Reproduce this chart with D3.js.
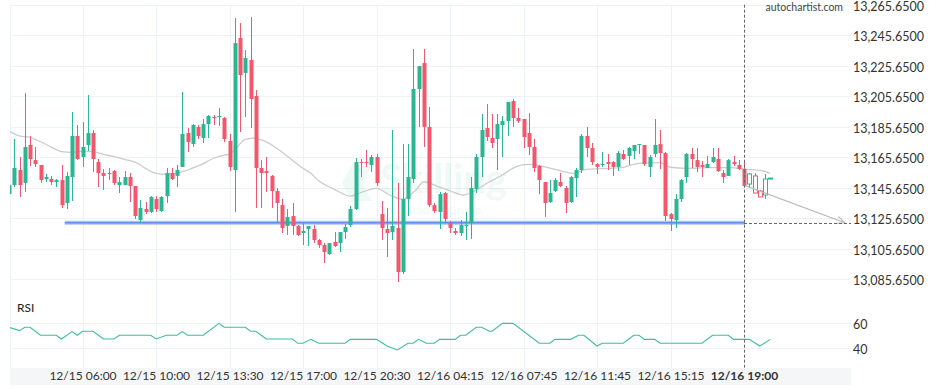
<!DOCTYPE html>
<html>
<head>
<meta charset="utf-8">
<script src="https://cdn.jsdelivr.net/npm/d3@7"></script>
<style>
  body { margin: 0; background: #fff; }
  text { font-family: Lato, "Open Sans", sans-serif; }
</style>
</head>
<body>
<div id="chart"></div>
<script>
// candle series (15 min bars), one entry per bar index
const opens = [13141.5,13147.4,13157.3,13148.8,13173.7,13163.8,13160.6,13151.4,13151.4,13149.4,
  13150.7,13135.7,13152.7,13179.6,13165.8,13173.7,13181.5,13162.5,13155.3,13154.7,
  13156.6,13147.4,13147.4,13152.7,13146.8,13124.5,13131.7,13129.8,13138.3,13130.4,
  13140.2,13155.3,13153.4,13159.3,13181.5,13174.3,13185.5,13178.3,13187.4,13192.0,
  13192.0,13191.4,13176.3,13157.3,13243.8,13220.9,13229.4,13205.8,13158.6,13156.6,
  13153.4,13143.5,13134.3,13120.6,13127.1,13120.6,13116.0,13118.6,13118.6,13111.4,
  13108.1,13102.2,13110.1,13109.4,13116.6,13121.2,13131.7,13162.5,13162.5,13160.6,
  13165.8,13128.4,13118.6,13116.6,13119.3,13090.4,13138.3,13151.4,13210.4,13227.4,
  13185.5,13134.3,13129.8,13142.2,13122.5,13117.3,13116.0,13120.6,13122.5,13144.8,
  13165.8,13184.8,13178.3,13177.6,13186.8,13189.4,13202.5,13191.4,13190.7,13181.5,
  13172.4,13159.9,13149.4,13136.3,13143.5,13149.4,13145.5,13136.3,13152.0,13157.3,
  13179.6,13171.7,13161.2,13160.6,13162.5,13162.5,13159.3,13167.8,13166.5,13169.7,
  13173.7,13173.7,13159.3,13167.8,13174.3,13168.4,13128.4,13124.5,13138.3,13152.7,
  13167.8,13163.8,13160.6,13158.6,13162.5,13164.5,13155.3,13153.4,13162.5,13160.6,
  13157.9,13148.1,13153.4,13143.5,13140.9,13152.0];
const highs = [13148.1,13177.6,13165.8,13207.7,13179.6,13172.4,13160.6,13154.7,13153.4,13151.4,
  13160.6,13156.0,13195.3,13186.8,13188.7,13206.4,13183.5,13164.5,13157.9,13158.6,
  13157.3,13152.7,13156.6,13155.3,13146.8,13137.6,13136.3,13140.2,13140.2,13140.2,
  13158.6,13158.6,13160.6,13208.4,13184.8,13187.4,13186.8,13190.7,13193.3,13193.3,
  13197.9,13192.0,13180.9,13256.9,13253.6,13235.9,13257.6,13209.7,13163.8,13165.8,
  13154.0,13145.5,13138.3,13131.7,13135.7,13121.2,13122.5,13120.6,13121.2,13112.1,
  13109.4,13109.4,13116.6,13116.6,13121.9,13133.7,13165.1,13164.5,13170.4,13167.1,
  13167.8,13137.0,13132.4,13183.5,13148.8,13174.3,13174.3,13236.6,13225.4,13236.6,
  13198.6,13135.7,13142.9,13142.9,13123.9,13119.3,13124.5,13129.8,13152.7,13167.8,
  13194.0,13200.5,13194.0,13194.0,13192.7,13201.9,13203.8,13197.9,13190.7,13194.6,
  13177.6,13160.6,13149.4,13150.7,13152.0,13155.3,13146.8,13153.4,13158.6,13180.9,
  13185.5,13175.0,13161.9,13169.1,13167.8,13163.2,13169.7,13170.4,13172.4,13173.7,
  13174.3,13173.7,13167.1,13190.7,13183.5,13169.1,13129.1,13141.5,13151.4,13168.4,
  13171.7,13171.7,13163.2,13166.5,13171.7,13171.7,13157.3,13164.5,13166.5,13163.8,
  13163.8,13155.3,13155.3,13144.2,13154.7,13152.0];
const lows = [13140.9,13146.1,13139.6,13142.9,13159.9,13159.3,13148.8,13149.4,13147.4,13146.1,
  13132.4,13131.7,13137.0,13163.8,13159.3,13169.7,13156.0,13146.1,13144.2,13150.7,
  13147.4,13142.2,13147.4,13136.3,13125.2,13122.5,13128.4,13129.1,13129.8,13129.8,
  13135.7,13150.7,13146.1,13159.3,13169.1,13172.4,13177.6,13175.0,13178.3,13186.8,
  13186.1,13175.6,13156.6,13129.8,13182.2,13192.0,13184.8,13132.4,13132.4,13142.9,
  13132.4,13122.5,13116.0,13114.7,13114.7,13114.0,13108.1,13107.5,13109.4,13106.2,
  13096.3,13101.6,13106.8,13103.5,13112.1,13119.9,13131.1,13152.7,13159.3,13156.0,
  13146.8,13111.4,13100.3,13111.4,13083.9,13089.1,13127.1,13148.8,13185.5,13172.4,
  13133.0,13129.1,13118.6,13122.5,13116.0,13114.7,13114.0,13111.4,13112.1,13142.2,
  13152.7,13176.3,13171.7,13157.3,13165.8,13179.6,13185.5,13188.1,13171.7,13167.1,
  13156.0,13141.5,13126.5,13135.7,13142.9,13146.1,13129.1,13135.7,13139.6,13155.3,
  13165.8,13160.6,13154.7,13159.3,13157.3,13153.4,13156.6,13163.8,13160.6,13164.5,
  13167.8,13159.9,13152.7,13165.8,13157.9,13123.9,13117.3,13119.3,13136.3,13148.8,
  13158.6,13156.0,13152.7,13158.6,13161.9,13156.0,13148.8,13153.4,13159.9,13157.3,
  13146.1,13145.5,13142.2,13139.6,13138.3,13152.0];
const closes = [13147.4,13158.6,13147.4,13172.4,13164.5,13161.2,13150.7,13152.7,13149.4,13150.7,
  13134.3,13153.4,13179.6,13164.5,13172.4,13181.5,13164.5,13155.3,13153.4,13155.3,
  13148.8,13149.4,13152.7,13146.8,13127.1,13132.4,13129.8,13139.6,13131.7,13139.6,
  13155.3,13151.4,13157.3,13180.9,13175.6,13186.8,13179.6,13187.4,13192.7,13191.4,
  13192.7,13177.6,13159.3,13240.5,13219.5,13230.7,13203.8,13158.6,13155.3,13155.3,
  13143.5,13135.7,13119.3,13126.5,13120.6,13114.7,13117.3,13120.6,13111.4,13108.1,
  13103.5,13109.4,13107.5,13116.6,13119.9,13131.7,13162.5,13161.9,13161.9,13165.8,
  13148.8,13119.3,13116.0,13120.6,13090.4,13138.3,13152.7,13210.4,13225.4,13185.5,
  13134.3,13130.4,13141.5,13125.2,13119.3,13116.0,13121.2,13121.2,13145.5,13165.8,
  13183.5,13178.9,13175.0,13187.4,13189.4,13201.9,13191.4,13189.4,13178.9,13172.4,
  13158.6,13150.7,13135.7,13142.2,13150.7,13146.8,13135.7,13152.7,13157.3,13179.6,
  13171.7,13162.5,13159.3,13161.2,13161.2,13159.3,13168.4,13164.5,13171.7,13173.7,
  13174.3,13161.2,13165.8,13173.7,13168.4,13127.1,13125.2,13138.3,13150.7,13167.8,
  13164.5,13159.3,13159.3,13161.2,13165.8,13156.6,13152.7,13163.8,13161.2,13157.9,
  13146.8,13154.7,13142.2,13139.6,13151.4,13152.0];

// bars after the pattern end are drawn hollow
const hollowFrom = 141;

// time labels on the x axis and the bar index they sit on
const timeLabels = ['12/15 06:00','12/15 10:00','12/15 13:30','12/15 17:00','12/15 20:30',
  '12/16 04:15','12/16 07:45','12/16 11:45','12/16 15:15','12/16 19:00'];
const labelIdx = [14, 28, 42, 56, 70, 84, 98, 112, 126, 140];

// moving average : bar index / price
const maIdx = [0,2,4,6,8,10,12,14,16,18,20,22,24.5,26,28,30,32,34,36.5,39,41,42,43.5,45,46.5,48.5,
  51,53.5,56,57.5,59,62,65,67.5,70,72.5,75,77.5,79,81.5,84,86.5,88.5,91,94,96.5,99,102,105,
  107.5,110,114.5,116.5,120,124,126,129,133.5,137.5,140,143.5,145];
const maVals = [13183.0,13179.6,13178.7,13175.8,13172.5,13169.3,13168.9,13169.7,13169.3,13167.6,
  13166.0,13164.3,13161.7,13158.4,13155.1,13154.5,13155.1,13157.3,13160.6,13165.0,13167.1,13167.6,
  13172.5,13177.4,13178.1,13176.5,13171.5,13165.0,13158.4,13155.1,13150.3,13144.6,13140.2,13143.1,
  13145.3,13140.9,13138.1,13144.2,13149.6,13146.8,13143.7,13140.9,13143.1,13148.6,13154.0,13159.4,
  13161.0,13159.4,13156.8,13155.1,13157.7,13158.4,13158.8,13161.7,13162.1,13159.1,13158.4,13158.8,
  13158.8,13157.9,13156.8,13155.1];

// RSI vertices : bar index / value
const rsiIdx = [0,2,3,4,6,9,10,12,13,14,16,18,20,21,27,28,30,32,33,34,37,40,41,45,46,47,49,54,55,56,
  57.5,59,64,65,70,72,74,76,77,78,79.5,81,82,85,86,87,89,90,91.5,92,94,96,101,103,104,107,108.5,
  109.5,112,113,117,119,120,121,123,124,132,134,137,138,141,143,145];
const rsiVals = [56.4,53.8,56.4,56.4,50.2,50.2,47.3,53.0,50.2,53.3,53.3,47.3,47.3,50.2,50.2,47.3,50.2,
  50.2,53.0,50.2,50.2,59.5,56.4,56.4,53.3,53.3,47.3,47.3,43.9,43.9,47.0,43.9,43.9,47.0,47.0,41.8,
  38.7,43.9,43.9,47.0,43.9,43.9,47.0,47.0,50.2,50.2,56.4,56.4,53.3,53.3,59.5,59.5,43.9,43.9,47.0,
  47.0,50.2,50.2,41.8,43.9,43.9,50.2,50.2,47.0,47.0,43.9,43.9,50.2,50.2,47.0,47.0,41.8,47.0];

const priceTicks = [13085.65,13105.65,13125.65,13145.65,13165.65,13185.65,13205.65,13225.65,13245.65,13265.65];
const rsiTicks = [40, 60];

// support level and forecast
const supportLevel = 13122.75;
const supportStart = 11;
const patternEnd = 140;
const forecastStart = [140, 13147.4];
const forecastEnd = [159.2, 13122.75];

const width = 936;
const height = 390;
const plotLeft = 10;
const plotRight = 851;
const green = '#2bb692';
const red = '#f4566b';

const svg = d3.select('#chart')
  .append('svg')
  .attr('width', width)
  .attr('height', height);

const x = d3.scaleLinear().domain([0, 140]).range([9, 744]);
const y = d3.scaleLinear().domain([13085.65, 13265.65]).range([279.3, 4.7]);
const yRsi = d3.scaleLinear().domain([40, 60]).range([348.3, 322.7]);

svg.append('defs').append('clipPath')
    .attr('id', 'plot-clip')
  .append('rect')
    .attr('x', plotLeft)
    .attr('y', 0)
    .attr('width', plotRight - plotLeft)
    .attr('height', 368);

svg.select('defs').append('marker')
    .attr('id', 'arrow')
    .attr('viewBox', '0 -5 10 10')
    .attr('refX', 9)
    .attr('markerWidth', 9)
    .attr('markerHeight', 9)
    .attr('markerUnits', 'userSpaceOnUse')
    .attr('orient', 'auto')
  .append('path')
    .attr('d', 'M0,-4L9,0L0,4')
    .attr('fill', 'none')
    .attr('stroke', '#b8b8b8')
    .attr('stroke-width', 1.2);

// x axis band
svg.append('rect')
  .attr('x', plotLeft)
  .attr('y', 368)
  .attr('width', plotRight - plotLeft)
  .attr('height', 17)
  .attr('fill', '#f5f6f8');

// grid
const grid = svg.append('g').attr('stroke', '#eef2f7').attr('stroke-width', 1);
grid.selectAll('.hgrid')
  .data(priceTicks)
  .enter().append('line')
    .attr('x1', plotLeft).attr('x2', plotRight)
    .attr('y1', (d) => Math.round(y(d)) + 0.5)
    .attr('y2', (d) => Math.round(y(d)) + 0.5);
grid.selectAll('.rgrid')
  .data(rsiTicks)
  .enter().append('line')
    .attr('x1', plotLeft).attr('x2', plotRight)
    .attr('y1', (d) => Math.round(yRsi(d)) + 0.5)
    .attr('y2', (d) => Math.round(yRsi(d)) + 0.5);
grid.selectAll('.vgrid')
  .data([0.15].concat(labelIdx.slice(0, -1)))
  .enter().append('line')
    .attr('x1', (d) => Math.round(x(d)) + 0.5)
    .attr('x2', (d) => Math.round(x(d)) + 0.5)
    .attr('y1', 4.7).attr('y2', 368);

// watermark
const wm = svg.append('g').attr('fill', green).attr('opacity', 0.07);
wm.append('path').attr('d', 'M352,165L372,165L362,183L372,201L352,201L342,183Z');
wm.append('text').attr('x', 380).attr('y', 193)
  .attr('font-size', 40).attr('font-weight', 700).text('Skilling');
wm.append('text').attr('x', 380).attr('y', 214)
  .attr('font-size', 12).text('Your Trading Group.');

const plot = svg.append('g').attr('clip-path', 'url(#plot-clip)');

// moving average
plot.append('path')
  .datum(maIdx.map((d, i) => [d, maVals[i]]))
  .attr('fill', 'none')
  .attr('stroke', '#cccccc')
  .attr('stroke-width', 1.3)
  .attr('d', d3.line().x((d) => x(d[0])).y((d) => y(d[1])).curve(d3.curveMonotoneX));

// support line
plot.append('line')
  .attr('x1', x(supportStart) - 2).attr('x2', x(patternEnd) + 1)
  .attr('y1', y(supportLevel)).attr('y2', y(supportLevel))
  .attr('stroke', '#a9c3f7').attr('stroke-width', 4);
plot.append('line')
  .attr('x1', x(supportStart) - 2).attr('x2', x(patternEnd) + 1)
  .attr('y1', y(supportLevel)).attr('y2', y(supportLevel))
  .attr('stroke', '#5f8ff0').attr('stroke-width', 1.6);

// candles
const bars = d3.range(opens.length).map((i) => ({
  i, o: opens[i], h: highs[i], l: lows[i], c: closes[i], up: closes[i] >= opens[i]
}));

const candle = plot.append('g').selectAll('g')
  .data(bars)
  .enter().append('g');

candle.append('line')
  .attr('x1', (d) => Math.round(x(d.i)) + 0.5)
  .attr('x2', (d) => Math.round(x(d.i)) + 0.5)
  .attr('y1', (d) => y(d.h))
  .attr('y2', (d) => y(d.l))
  .attr('stroke', (d) => d.up ? green : red)
  .attr('stroke-width', 1);

candle.append('rect')
  .attr('x', (d) => Math.round(x(d.i)) - 1.5)
  .attr('width', 4)
  .attr('y', (d) => y(Math.max(d.o, d.c)))
  .attr('height', (d) => Math.max(1, Math.abs(y(d.o) - y(d.c))))
  .attr('fill', (d) => d.i >= hollowFrom ? '#fff' : (d.up ? green : red))
  .attr('stroke', (d) => d.i >= hollowFrom ? (d.up ? green : red) : 'none')
  .attr('stroke-width', 1);

// forecast arrow
svg.append('line')
  .attr('x1', x(forecastStart[0])).attr('y1', y(forecastStart[1]))
  .attr('x2', x(forecastEnd[0])).attr('y2', y(forecastEnd[1]))
  .attr('stroke', '#b8b8b8')
  .attr('stroke-width', 1.2)
  .attr('marker-end', 'url(#arrow)');

// pattern end markers
svg.append('line')
  .attr('x1', Math.round(x(patternEnd)) + 0.5).attr('x2', Math.round(x(patternEnd)) + 0.5)
  .attr('y1', 4.7).attr('y2', 368)
  .attr('stroke', '#666').attr('stroke-dasharray', '3,2');
svg.append('line')
  .attr('x1', x(patternEnd)).attr('x2', plotRight)
  .attr('y1', Math.round(y(supportLevel)) + 0.5).attr('y2', Math.round(y(supportLevel)) + 0.5)
  .attr('stroke', '#666').attr('stroke-dasharray', '3,2');

// RSI
plot.append('path')
  .datum(rsiIdx.map((d, i) => [d, rsiVals[i]]))
  .attr('fill', 'none')
  .attr('stroke', '#3cbf9c')
  .attr('stroke-width', 1.1)
  .attr('d', d3.line().x((d) => x(d[0])).y((d) => yRsi(d[1])));

svg.append('text')
  .attr('x', 17).attr('y', 311.5)
  .attr('font-size', 12).attr('fill', '#222')
  .text('RSI');

// price axis
const priceAxis = svg.append('g')
  .attr('transform', `translate(${plotRight},0)`)
  .call(d3.axisRight(y).tickValues(priceTicks).tickFormat(d3.format(',.4f')).tickSize(0).tickPadding(2));
priceAxis.select('.domain').remove();
priceAxis.selectAll('text')
  .attr('font-family', 'Lato, sans-serif')
  .attr('font-size', 12.5)
  .attr('fill', '#333')
  .attr('dy', '0.45em');

const rsiAxis = svg.append('g')
  .attr('transform', `translate(${plotRight},0)`)
  .call(d3.axisRight(yRsi).tickValues(rsiTicks).tickSize(0).tickPadding(2));
rsiAxis.select('.domain').remove();
rsiAxis.selectAll('text')
  .attr('font-family', 'Lato, sans-serif')
  .attr('font-size', 12.5)
  .attr('fill', '#333')
  .attr('dy', '0.45em');

// time axis
const timeAxis = svg.append('g')
  .attr('transform', 'translate(0,368)')
  .call(d3.axisBottom(x).tickValues(labelIdx).tickFormat((d, i) => timeLabels[i]).tickSize(0).tickPadding(3));
timeAxis.select('.domain').remove();
timeAxis.selectAll('text')
  .attr('font-family', 'Lato, sans-serif')
  .attr('font-size', 12)
  .attr('fill', '#333')
  .attr('font-weight', (d, i) => i === timeLabels.length - 1 ? 700 : 400);

svg.append('text')
  .attr('x', 843).attr('y', 10.5)
  .attr('text-anchor', 'end')
  .attr('font-size', 10.5).attr('fill', '#444')
  .text('autochartist.com');
</script>
</body>
</html>
